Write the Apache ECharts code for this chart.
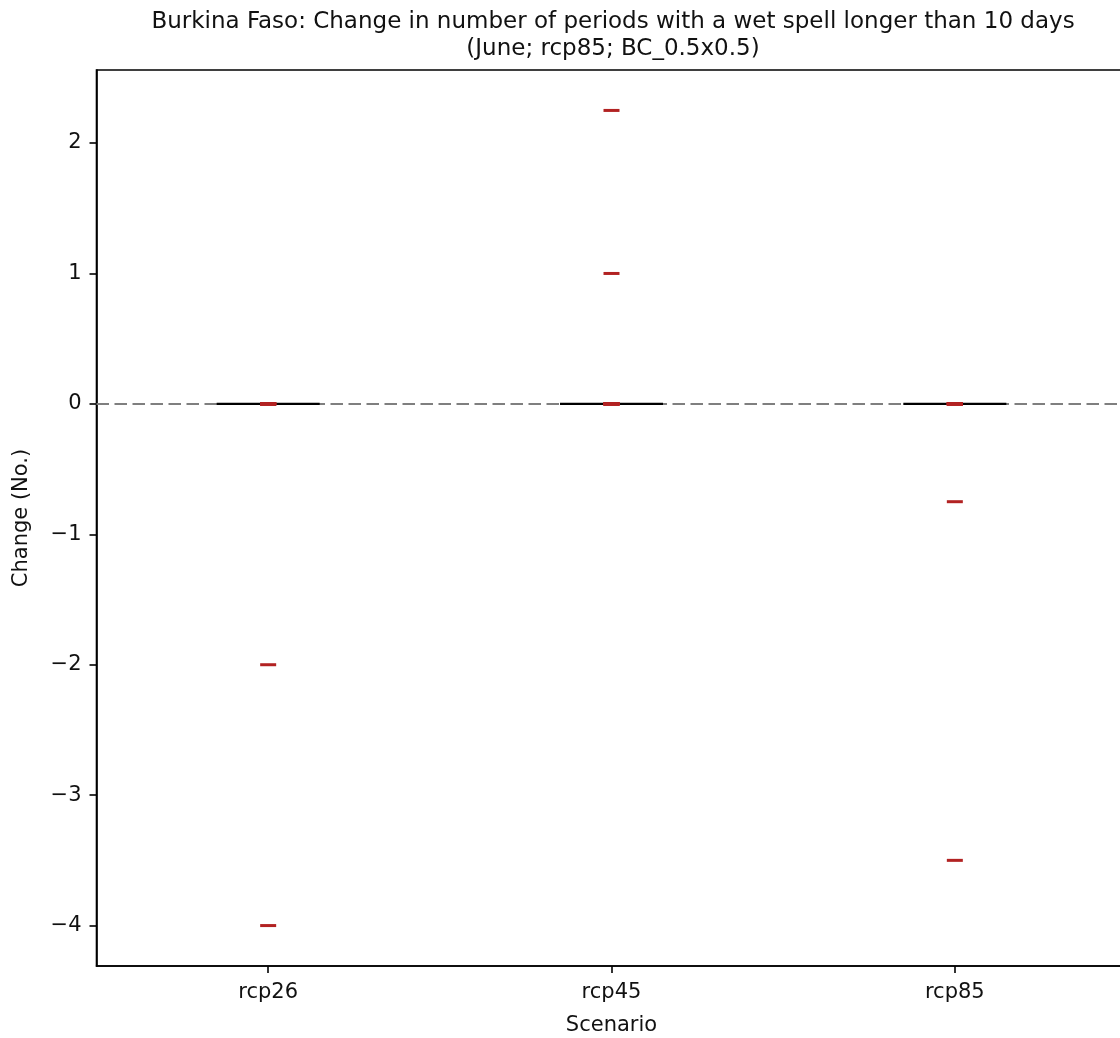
<!DOCTYPE html>
<html>
<head>
<meta charset="utf-8">
<script src="https://cdn.jsdelivr.net/npm/echarts@6/dist/echarts.min.js"></script>
<style>
html,body{margin:0;padding:0;background:#fff;}
#main{width:1120px;height:1038px;}
</style>
</head>
<body>
<div id="main"></div>
<script>
// ---- data ----
const categories = ['rcp26', 'rcp45', 'rcp85'];
const rcp26Values = [0, 0, 0, 0, 0, 0, 0, 0, -2, -4];
const rcp45Values = [2.25, 1, 0, 0, 0, 0, 0, 0, 0, 0];
const rcp85Values = [0, 0, 0, 0, 0, 0, 0, 0, -0.75, -3.5];
const yTickValues = [-4, -3, -2, -1, 0, 1, 2];
const titleText = 'Burkina Faso: Change in number of periods with a wet spell longer than 10 days';
const subtitleText = '(June; rcp85; BC_0.5x0.5)';

const allValues = [rcp26Values, rcp45Values, rcp85Values];

function quantile(sorted, p) {
  const pos = (sorted.length - 1) * p;
  const lo = Math.floor(pos), hi = Math.ceil(pos);
  return sorted[lo] + (sorted[hi] - sorted[lo]) * (pos - lo);
}
function boxStats(vals) {
  const s = vals.slice().sort((a, b) => a - b);
  const q1 = quantile(s, 0.25), med = quantile(s, 0.5), q3 = quantile(s, 0.75);
  const iqr = q3 - q1;
  const inside = s.filter(v => v >= q1 - 1.5 * iqr && v <= q3 + 1.5 * iqr);
  return [Math.min(...inside), q1, med, q3, Math.max(...inside)];
}
const boxData = allValues.map(boxStats);
const pointData = [];
allValues.forEach((vals, i) => vals.forEach(v => pointData.push([i, v])));

const fontFamily = 'DejaVu Sans';
const tickFont = 21;
const chart = echarts.init(document.getElementById('main'));
chart.setOption({
  backgroundColor: '#fff',
  animation: false,
  textStyle: { fontFamily: fontFamily },
  title: {
    text: titleText + '\n' + subtitleText,
    left: 608,
    top: 4,
    textAlign: 'center',
    textStyle: { fontFamily: fontFamily, fontSize: 23, fontWeight: 'normal', color: '#111', lineHeight: 27 }
  },
  grid: {
    left: 96.5, top: 70, width: 1030, height: 896,
    containLabel: false,
    outerBoundsMode: 'none',
    show: true, borderColor: '#000', borderWidth: 1.6, backgroundColor: 'transparent'
  },
  xAxis: {
    type: 'category',
    data: categories,
    boundaryGap: true,
    name: 'Scenario',
    nameLocation: 'middle',
    nameGap: 49,
    nameTextStyle: { fontFamily: fontFamily, fontSize: tickFont, color: '#111' },
    axisLine: { show: true, onZero: false, lineStyle: { color: '#000', width: 1.6 } },
    axisTick: { show: true, alignWithLabel: true, length: 7, lineStyle: { color: '#000', width: 1.6 } },
    axisLabel: { margin: 16, fontFamily: fontFamily, fontSize: tickFont, color: '#111' },
    splitLine: { show: false }
  },
  yAxis: {
    type: 'value',
    min: -4.31,
    max: 2.56,
    name: 'Change (No.)',
    nameLocation: 'middle',
    nameGap: 64,
    nameTextStyle: { fontFamily: fontFamily, fontSize: tickFont, color: '#111' },
    axisLine: { show: true, onZero: false, lineStyle: { color: '#000', width: 1.6 } },
    axisTick: { show: true, length: 7, customValues: yTickValues, lineStyle: { color: '#000', width: 1.6 } },
    axisLabel: {
      margin: 15, fontFamily: fontFamily, fontSize: tickFont, color: '#111',
      customValues: yTickValues,
      formatter: v => String(v).replace('-', '\u2212')
    },
    splitLine: { show: false }
  },
  series: [
    {
      type: 'boxplot',
      data: boxData,
      boxWidth: [103, 103],
      itemStyle: { color: 'transparent', borderColor: '#000', borderWidth: 2.2 },
      silent: true,
      z: 3,
      markLine: {
        silent: true,
        symbol: 'none',
        label: { show: false },
        lineStyle: { color: '#7f7f7f', width: 2.2, type: [12.5, 5.5] },
        data: [{ yAxis: 0 }],
        z: 1
      }
    },
    {
      type: 'scatter',
      data: pointData,
      symbol: 'rect',
      symbolSize: [16, 3],
      itemStyle: { color: '#b22222', opacity: 1 },
      silent: true,
      z: 5
    }
  ]
});
</script>
</body>
</html>
